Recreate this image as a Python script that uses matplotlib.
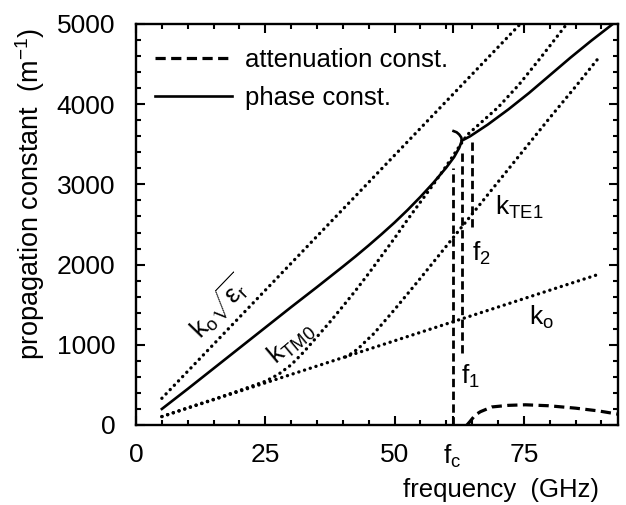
import matplotlib
matplotlib.use("Agg")
import matplotlib.pyplot as plt
from matplotlib.ticker import MultipleLocator, FixedLocator

# ---------------- data ----------------
# free-space wavenumber k0
freq_k0 = [5.0, 89.5]
k0_vals = [105, 1880]
# k0*sqrt(eps_r)
freq_k0er = [5.0, 74.3]
k0er_vals = [333, 5000]
# TM0 surface-wave wavenumber
freq_tm0 = [5, 10, 15, 20, 25, 27.5, 30, 32.5, 35, 37.5, 40, 42.5, 45, 47.5, 50, 52.5, 55,
            57.5, 60, 63, 64, 66, 70, 74, 78, 83.3]
tm0_vals = [105, 215, 320, 430, 545, 630, 750, 915, 1100, 1285, 1480, 1680, 1890, 2110, 2330,
            2560, 2780, 3000, 3230, 3520, 3615, 3730, 3960, 4240, 4560, 5000]
# TE1 surface-wave wavenumber
freq_te1 = [40.5, 41.5, 42.5, 43.5, 44.5, 46, 48, 50, 55, 60, 65, 70, 75, 80, 85, 89.2]
te1_vals = [848, 885, 930, 985, 1050, 1140, 1290, 1440, 1830, 2230, 2630, 3030, 3430, 3830,
            4220, 4557]
# phase constant, lower branch (incl. the turning hook)
freq_phase_low = [5, 10, 15, 20, 25, 30, 35, 40, 42.5, 45, 47.5, 50, 52.5, 55, 57.5, 60, 61.5,
                  62.5, 63.0, 62.9, 62.5, 62.0, 61.4]
phase_low_vals = [200, 450, 705, 960, 1215, 1470, 1720, 1975, 2105, 2240, 2380, 2525, 2680,
                  2845, 3020, 3210, 3340, 3455, 3545, 3585, 3622, 3650, 3665]
# phase constant, upper branch
freq_phase_up = [63.0, 64.6, 68, 72, 76, 80, 84, 88, 92.8]
phase_up_vals = [3545, 3600, 3745, 3935, 4140, 4360, 4580, 4790, 5030]
# attenuation constant
freq_att = [64.0, 64.6, 65.6, 66.6, 68.8, 72, 75.3, 79.8, 85, 89.5, 93.2]
att_vals = [0, 45, 125, 166, 225, 245, 252, 240, 210, 175, 135]
# characteristic frequencies: fc, f1, f2 and extent of their marker lines
mark_freqs = [61.2, 63.1, 65.0]
mark_bottom = [0, 900, 2470]
mark_top = [3210, 3440, 3555]

x_ticks = [0, 25, 50, 61.2, 75]
x_ticklabels = ['0', '25', '50', r'f$_\mathrm{c}$', '75']
y_ticks = [0, 1000, 2000, 3000, 4000, 5000]

# ---------------- style ----------------
plt.rcParams['font.family'] = ['Liberation Sans', 'DejaVu Sans']
plt.rcParams['mathtext.fontset'] = 'custom'
plt.rcParams['mathtext.rm'] = 'Liberation Sans'
plt.rcParams['mathtext.it'] = 'Liberation Sans'
plt.rcParams['mathtext.bf'] = 'Liberation Sans:bold'

fig = plt.figure(figsize=(6.26, 5.05), dpi=100)
L, R, T, B = 136, 618, 24, 425
W, H = 626, 505
ax = fig.add_axes([L / W, 1 - B / H, (R - L) / W, (B - T) / H])

dot = dict(color='black', lw=2.4, linestyle=(0, (0.05, 1.75)), dash_capstyle='round')
ax.plot(freq_k0, k0_vals, **dot)
ax.plot(freq_k0er, k0er_vals, **dot)
ax.plot(freq_tm0, tm0_vals, **dot)
ax.plot(freq_te1, te1_vals, **dot)

att_line, = ax.plot(freq_att, att_vals, color='black', lw=2.3, linestyle=(0, (3.2, 1.7)),
                    label='attenuation const.')
phase_line, = ax.plot(freq_phase_low, phase_low_vals, color='black', lw=1.9,
                      label='phase const.', solid_joinstyle='round')
ax.plot(freq_phase_up, phase_up_vals, color='black', lw=1.9, solid_joinstyle='round')

for f, y0, y1 in zip(mark_freqs, mark_bottom, mark_top):
    ax.plot([f, f], [y0, y1], color='black', lw=2.0, linestyle=(0, (3.0, 1.6)))

ax.set_xlim(0, 93.2)
ax.set_ylim(0, 5000)

ax.xaxis.set_major_locator(FixedLocator(x_ticks))
ax.set_xticklabels(x_ticklabels)
ax.xaxis.set_minor_locator(MultipleLocator(5))
ax.yaxis.set_major_locator(FixedLocator(y_ticks))
ax.yaxis.set_minor_locator(MultipleLocator(200))

ax.tick_params(which='both', direction='in', top=True, right=True, width=1.5, labelsize=19)
ax.tick_params(which='major', length=6.5)
ax.tick_params(which='minor', length=3.5)
ax.tick_params(axis='x', pad=13)
ax.tick_params(axis='y', pad=15)
for s in ax.spines.values():
    s.set_linewidth(1.7)

ax.set_xlabel('frequency  (GHz)', fontsize=18.5)
ax.xaxis.set_label_coords((501 - L) / (R - L), (B - 490) / (B - T))
ax.xaxis.label.set_verticalalignment('center')
ax.set_ylabel(r'propagation constant  (m$^{-1}$)', fontsize=19.5)
ax.yaxis.set_label_coords((30 - L) / (R - L), (B - 194) / (B - T))
ax.yaxis.label.set_verticalalignment('center')

# curve annotations
ax.text(16.2, 1473, r'k$_\mathrm{o}\sqrt{\varepsilon_\mathrm{r}}$', fontsize=19,
        rotation=46, ha='center', va='center', rotation_mode='anchor')
ax.text(30.0, 1024, r'k$_\mathrm{TM0}$', fontsize=19, rotation=40, ha='center', va='center',
        rotation_mode='anchor')
ax.text(74.0, 2709, r'k$_\mathrm{TE1}$', fontsize=19, ha='center', va='center')
ax.text(66.8, 2135, r'f$_\mathrm{2}$', fontsize=19, ha='center', va='center')
ax.text(64.7, 600, r'f$_\mathrm{1}$', fontsize=19, ha='center', va='center')
ax.text(78.4, 1336, r'k$_\mathrm{o}$', fontsize=19, ha='center', va='center')

ax.legend(handles=[att_line, phase_line], loc='upper left', frameon=False, fontsize=18.5,
          handlelength=3.0, handletextpad=0.5, labelspacing=0.55, borderpad=0,
          borderaxespad=0, bbox_to_anchor=((155 - L) / (R - L), (B - 48) / (B - T)))

fig.savefig('out.png', dpi=100)
